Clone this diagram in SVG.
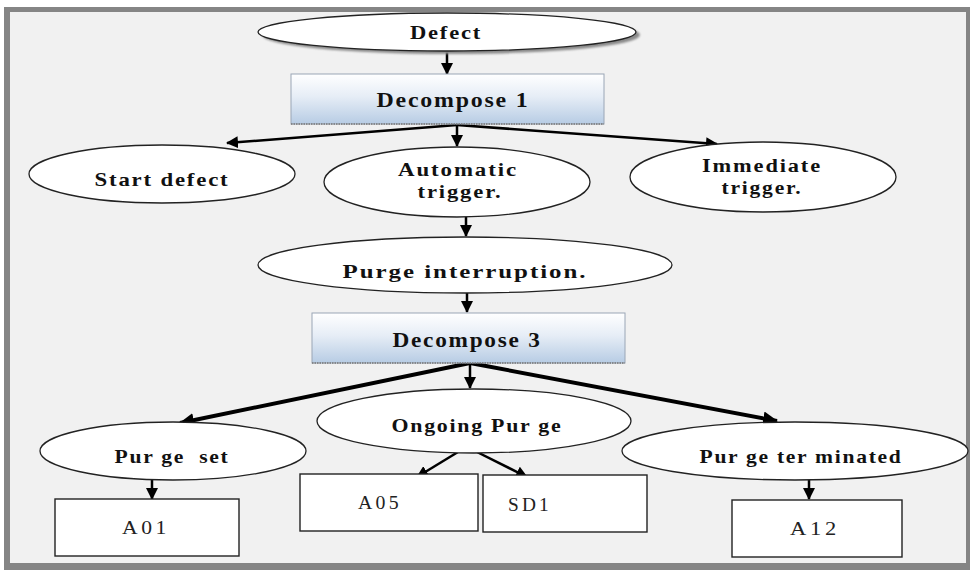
<svg xmlns="http://www.w3.org/2000/svg" width="972" height="570" viewBox="0 0 972 570">
  <defs>
    <linearGradient id="boxFill" x1="0" y1="0" x2="0" y2="1">
      <stop offset="0" stop-color="#ffffff"/>
      <stop offset="0.45" stop-color="#e6edf6"/>
      <stop offset="1" stop-color="#b7cce4"/>
    </linearGradient>
    <filter id="soft" x="-10%" y="-30%" width="120%" height="160%">
      <feGaussianBlur stdDeviation="1.2"/>
    </filter>
    <marker id="arr" markerUnits="userSpaceOnUse" markerWidth="12" markerHeight="12" refX="11" refY="6" orient="auto">
      <path d="M0,0 L12,6 L0,12 z" fill="#000"/>
    </marker>
    <marker id="arrBig" markerUnits="userSpaceOnUse" markerWidth="15" markerHeight="14" refX="14" refY="7" orient="auto">
      <path d="M0,0 L15,7 L0,14 z" fill="#000"/>
    </marker>
  </defs>
  <style>
    .oval { fill: #ffffff; stroke: #222; stroke-width: 1.3; }
    .step { fill: url(#boxFill); stroke: #9aa6b6; stroke-width: 1; }
    .code { fill: #ffffff; stroke: #222; stroke-width: 1.4; }
    .lbl { font-family: "Liberation Serif", "Times New Roman", serif; font-weight: bold; font-size: 19px; letter-spacing: 1.5px; fill: #111; text-anchor: middle; }
    .two { font-size: 18px; }
    .big { font-size: 20px; }
    .plain { font-family: "Liberation Serif", "Times New Roman", serif; font-size: 18px; letter-spacing: 3px; fill: #222; text-anchor: middle; }
    .wire { stroke: #000; stroke-width: 2.5; fill: none; marker-end: url(#arr); }
    .wire-thick { stroke: #000; stroke-width: 4; fill: none; marker-end: url(#arrBig); }
  </style>

  <!-- page and frame -->
  <rect x="0" y="0" width="972" height="570" fill="#ffffff"/>
  <rect x="4" y="7" width="966" height="563" fill="#858585"/>
  <rect x="10" y="12" width="956" height="551" fill="#f1f1f1"/>

  <!-- connectors -->
  <g id="connectors">
    <line class="wire" x1="447" y1="52" x2="447" y2="74"/>
    <line class="wire" x1="457" y1="125" x2="227" y2="143"/>
    <line class="wire" x1="457" y1="125" x2="457" y2="146"/>
    <line class="wire" x1="457" y1="125" x2="717" y2="144"/>
    <line class="wire" x1="466" y1="217" x2="466" y2="236"/>
    <line class="wire" x1="467" y1="293" x2="467" y2="312"/>
    <line class="wire-thick" x1="470" y1="363" x2="180" y2="423"/>
    <line class="wire" x1="470" y1="363" x2="470" y2="388"/>
    <line class="wire-thick" x1="470" y1="363" x2="777" y2="421"/>
    <line class="wire" x1="458" y1="452" x2="417" y2="477"/>
    <line class="wire" x1="477" y1="452" x2="527" y2="477"/>
    <line class="wire" x1="152" y1="480" x2="152" y2="499"/>
    <line class="wire" x1="809" y1="480" x2="809" y2="499"/>
  </g>

  <g id="defect">
    <ellipse cx="451" cy="35" rx="189" ry="19" fill="#8a8a8a" filter="url(#soft)"/>
    <ellipse class="oval" cx="447" cy="32" rx="189" ry="19"/>
    <text class="lbl" x="446" y="39" textLength="72" lengthAdjust="spacingAndGlyphs">Defect</text>
  </g>

  <g id="decompose1">
    <rect class="step" x="291" y="74" width="313" height="50"/>
    <line x1="291" y1="124" x2="604" y2="124" stroke="#777" stroke-width="1.5" stroke-dasharray="1.5 1"/>
    <text class="lbl big" x="453" y="107" textLength="153" lengthAdjust="spacingAndGlyphs">Decompose 1</text>
  </g>

  <g id="start-defect">
    <ellipse class="oval" cx="162" cy="174" rx="133" ry="29"/>
    <text class="lbl" x="162" y="186" textLength="135" lengthAdjust="spacingAndGlyphs">Start defect</text>
  </g>

  <g id="automatic-trigger">
    <ellipse class="oval" cx="457" cy="182" rx="133" ry="35"/>
    <text class="lbl two" x="458" y="176" textLength="120" lengthAdjust="spacingAndGlyphs">Automatic</text>
    <text class="lbl two" x="460" y="198" textLength="85" lengthAdjust="spacingAndGlyphs">trigger.</text>
  </g>

  <g id="immediate-trigger">
    <ellipse class="oval" cx="763" cy="177" rx="133" ry="35"/>
    <text class="lbl two" x="762" y="172" textLength="120" lengthAdjust="spacingAndGlyphs">Immediate</text>
    <text class="lbl two" x="762" y="194" textLength="81" lengthAdjust="spacingAndGlyphs">trigger.</text>
  </g>

  <g id="purge-interruption">
    <ellipse class="oval" cx="465" cy="265" rx="207" ry="28"/>
    <text class="lbl" x="465" y="278" textLength="245" lengthAdjust="spacingAndGlyphs">Purge interruption.</text>
  </g>

  <g id="decompose3">
    <rect class="step" x="312" y="313" width="313" height="50"/>
    <line x1="312" y1="363" x2="625" y2="363" stroke="#777" stroke-width="1.5" stroke-dasharray="1.5 1"/>
    <text class="lbl big" x="467" y="347" textLength="149" lengthAdjust="spacingAndGlyphs">Decompose 3</text>
  </g>

  <g id="purge-set">
    <ellipse class="oval" cx="173" cy="451" rx="133" ry="29"/>
    <text class="lbl" x="172" y="463" textLength="115" lengthAdjust="spacingAndGlyphs" xml:space="preserve">Pur ge  set</text>
  </g>

  <g id="ongoing-purge">
    <ellipse class="oval" cx="474" cy="421" rx="157" ry="32"/>
    <text class="lbl" x="477" y="432" textLength="171" lengthAdjust="spacingAndGlyphs">Ongoing Pur ge</text>
  </g>

  <g id="purge-terminated">
    <ellipse class="oval" cx="795" cy="451" rx="173" ry="29"/>
    <text class="lbl" x="801" y="463" textLength="203" lengthAdjust="spacingAndGlyphs">Pur ge ter minated</text>
  </g>

  <g id="a01">
    <rect class="code" x="55" y="499" width="184" height="57"/>
    <text class="plain" x="146" y="534" textLength="48" lengthAdjust="spacingAndGlyphs">A01</text>
  </g>

  <g id="a05">
    <rect class="code" x="300" y="474" width="178" height="57"/>
    <text class="plain" x="380" y="509" textLength="44" lengthAdjust="spacingAndGlyphs">A05</text>
  </g>

  <g id="sd1">
    <rect class="code" x="483" y="475" width="164" height="57"/>
    <text class="plain" x="530" y="511" textLength="44" lengthAdjust="spacingAndGlyphs">SD1</text>
  </g>

  <g id="a12">
    <rect class="code" x="732" y="500" width="170" height="57"/>
    <text class="plain" x="815" y="535" textLength="50" lengthAdjust="spacingAndGlyphs">A12</text>
  </g>
</svg>
